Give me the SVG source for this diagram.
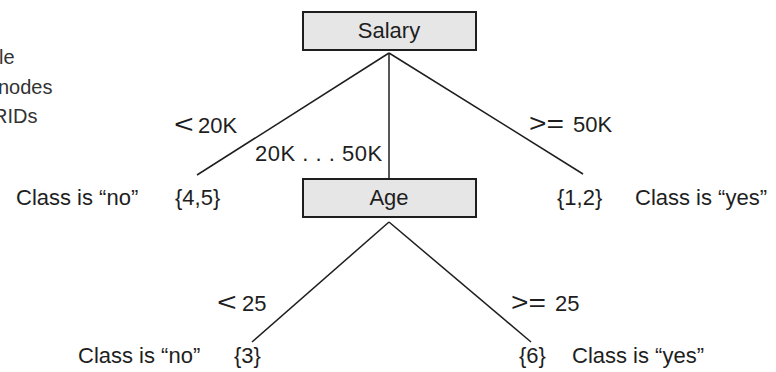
<svg xmlns="http://www.w3.org/2000/svg" width="776" height="372" viewBox="0 0 776 372">
<style>
text{font-family:"Liberation Sans",Arial,sans-serif;font-size:22px;fill:#1e1e1e}
.side{font-size:20px;fill:#333}
.sym{font-size:26px}
.box{fill:#e6e6e6;stroke:#1e1e1e;stroke-width:2}
.edge{stroke:#1e1e1e;stroke-width:1.5;fill:none}
</style>
<rect width="776" height="372" fill="#ffffff"/>
<g id="margin-text">
<text class="side" x="-1" y="64">le</text>
<text class="side" x="-2" y="94">nodes</text>
<text class="side" x="-7" y="123">RIDs</text>
</g>
<g id="connectors">
<line class="edge" x1="389" y1="53" x2="197" y2="175"/>
<line class="edge" x1="389" y1="53" x2="389" y2="179"/>
<line class="edge" x1="389" y1="53" x2="583" y2="174"/>
<line class="edge" x1="389" y1="222" x2="252" y2="342"/>
<line class="edge" x1="389" y1="222" x2="531" y2="342"/>
<text class="sym" transform="translate(174,133) scale(1.3,1)">&lt;</text>
<text x="198" y="133">20K</text>
<text x="255" y="161" letter-spacing="0.5">20K . . . 50K</text>
<text class="sym" transform="translate(529,132) scale(1.15,1)">&gt;=</text>
<text x="573" y="132">50K</text>
<text class="sym" transform="translate(217,311) scale(1.3,1)">&lt;</text>
<text x="242" y="311">25</text>
<text class="sym" transform="translate(511,311) scale(1.15,1)">&gt;=</text>
<text x="555" y="311">25</text>
</g>
<g id="salary">
<rect class="box" x="303" y="12" width="173" height="38"/>
<text x="389" y="38" text-anchor="middle">Salary</text>
</g>
<g id="age">
<rect class="box" x="303" y="179" width="173" height="38"/>
<text x="389" y="205" text-anchor="middle">Age</text>
</g>
<g id="leaf-45">
<text x="16" y="205">Class is “no”</text>
<text x="175" y="205">{4,5}</text>
</g>
<g id="leaf-12">
<text x="557" y="205">{1,2}</text>
<text x="635" y="205">Class is “yes”</text>
</g>
<g id="leaf-3">
<text x="78" y="363">Class is “no”</text>
<text x="234" y="363">{3}</text>
</g>
<g id="leaf-6">
<text x="519" y="363">{6}</text>
<text x="572" y="363">Class is “yes”</text>
</g>
</svg>
